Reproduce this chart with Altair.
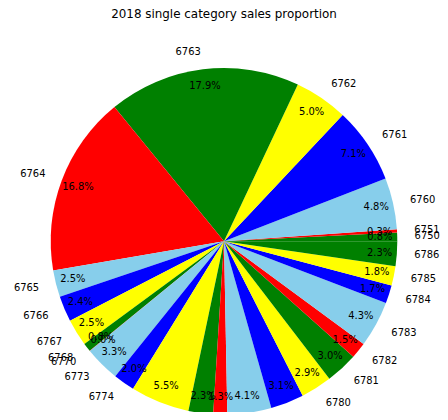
import math
import altair as alt
import pandas as pd

categories = ["6750", "6751", "6760", "6761", "6762", "6763", "6764", "6765",
              "6766", "6767", "6768", "6770", "6773", "6774", "6775", "6776",
              "6777", "6778", "6779", "6780", "6781", "6782", "6783", "6784",
              "6785", "6786"]
shares = [0.8, 0.3, 4.8, 7.1, 5.0, 17.9, 16.8, 2.5, 2.4, 2.5, 0.8, 0.02, 3.3,
          2.0, 5.5, 2.3, 1.3, 4.1, 3.1, 2.9, 3.0, 1.5, 4.3, 1.7, 1.8, 2.3]
palette = ["green", "red", "skyblue", "blue", "yellow"]
colors = [palette[i % len(palette)] for i in range(len(categories))]

df = pd.DataFrame({"category": categories, "share": shares,
                   "idx": list(range(len(categories)))})
total = float(sum(shares))

R = 174.5
CX, CY = 217.5, 203.5
FONT = "DejaVu Sans"

theta_scale = alt.Scale(domain=[0, total], range=[math.pi / 2, math.pi / 2 - 2 * math.pi])

base = alt.Chart(df).transform_window(
    end="sum(share)", sort=[alt.SortField("idx", order="ascending")],
    frame=[None, 0]
).transform_calculate(
    start="datum.end - datum.share",
    mid="datum.end - datum.share / 2",
    pct="format(datum.share / " + str(total) + " * 100, '.1f') + '%'",
    right="cos(2 * PI * (datum.end - datum.share / 2) / " + str(total) + ") > 0"
)

arcs = base.mark_arc(radius=R, stroke=None).encode(
    theta=alt.Theta("start:Q", scale=theta_scale, stack=None),
    theta2="end:Q",
    color=alt.Color("category:N", scale=alt.Scale(domain=categories, range=colors), legend=None),
    x=alt.value(CX), y=alt.value(CY),
)

pct_text = base.mark_text(radius=R * 0.9, font=FONT, fontSize=10, color="black",
                          align="center", baseline="middle").encode(
    theta=alt.Theta("mid:Q", scale=theta_scale, stack=None),
    text="pct:N",
    x=alt.value(CX), y=alt.value(CY),
)

lab_right = base.transform_filter("datum.right").mark_text(
    radius=R * 1.1, font=FONT, fontSize=10, color="black",
    align="left", baseline="middle").encode(
    theta=alt.Theta("mid:Q", scale=theta_scale, stack=None),
    text="category:N",
    x=alt.value(CX), y=alt.value(CY),
)

lab_left = base.transform_filter("!datum.right").mark_text(
    radius=R * 1.1, font=FONT, fontSize=10, color="black",
    align="right", baseline="middle").encode(
    theta=alt.Theta("mid:Q", scale=theta_scale, stack=None),
    text="category:N",
    x=alt.value(CX), y=alt.value(CY),
)

chart = alt.layer(arcs, pct_text, lab_right, lab_left).properties(
    width=435, height=374,
    title=alt.Title("2018 single category sales proportion", font=FONT,
                    fontSize=12, fontWeight="normal", color="black",
                    anchor="middle", offset=18),
    autosize=alt.AutoSizeParams(type="none"),
    padding={"left": 0, "top": 30, "right": 0, "bottom": 0},
).configure_view(stroke=None)

chart.save("out.html", embed_options={"renderer": "svg", "actions": False})
